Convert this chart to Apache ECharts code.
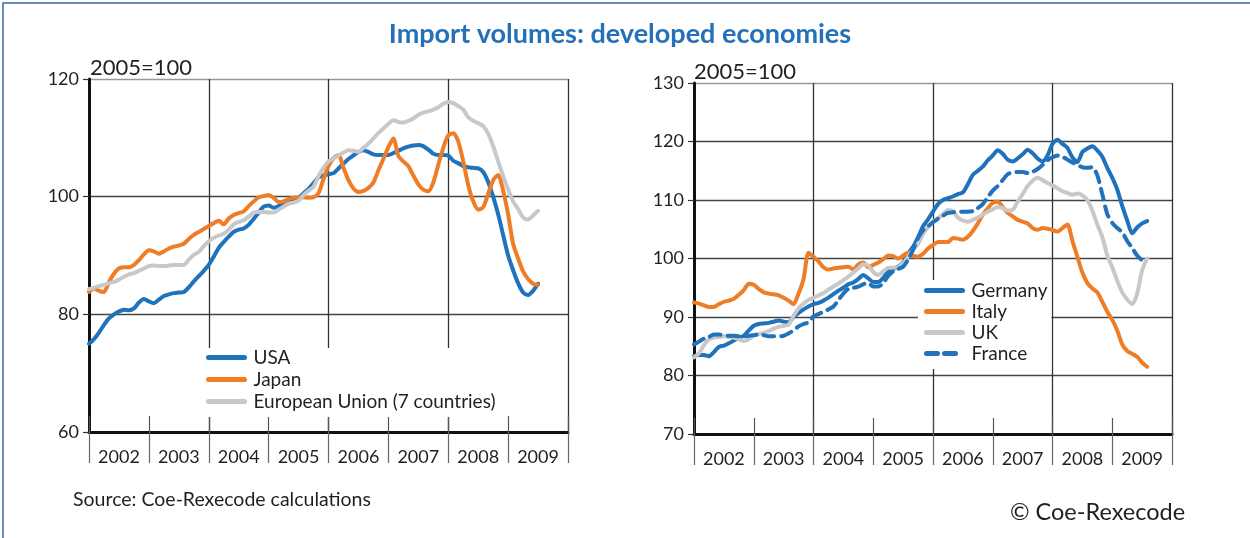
<!DOCTYPE html>
<html>
<head>
<meta charset="utf-8">
<script src="https://cdn.jsdelivr.net/npm/echarts@6/dist/echarts.min.js"></script>
<style>
  html, body { margin: 0; padding: 0; background: #fff; }
  #chart { width: 1250px; height: 538px; }
</style>
</head>
<body>
<div id="chart"></div>
<script>
// monthly index values, 2002-01 onwards (2005=100)
const years = ["2002", "2003", "2004", "2005", "2006", "2007", "2008", "2009"];

const usa = [75.0, 75.8, 76.9, 78.2, 79.3, 80.0, 80.5, 80.8, 80.7, 81.0, 82.0, 82.6,
  82.2, 81.9, 82.5, 83.1, 83.4, 83.6, 83.7, 83.8, 84.6, 85.6, 86.5, 87.4,
  88.4, 89.8, 91.3, 92.3, 93.2, 94.0, 94.4, 94.6, 95.2, 96.2, 97.3, 98.3,
  98.5, 98.1, 98.4, 99.0, 99.4, 99.6, 99.8, 100.6, 101.3, 102.3, 103.3, 103.6,
  103.8, 104.0, 104.8, 105.6, 106.4, 107.0, 107.6, 107.9, 107.6, 107.2, 107.1, 107.1,
  107.1, 107.4, 107.8, 108.2, 108.5, 108.7, 108.8, 108.6, 108.0, 107.3, 107.1, 107.1,
  107.0, 106.1, 105.7, 105.2, 105.0, 104.9, 104.8, 104.2, 102.5, 100.0, 97.0, 93.5,
  90.0, 87.5, 85.3, 83.7, 83.3, 84.0, 85.2];

const japan = [83.8, 84.4, 84.0, 83.8, 85.5, 86.9, 87.8, 88.0, 88.0, 88.4, 89.2, 90.2,
  90.9, 90.7, 90.3, 90.7, 91.2, 91.5, 91.7, 92.0, 92.8, 93.5, 94.0, 94.5,
  95.0, 95.5, 95.9, 95.3, 96.3, 96.9, 97.2, 97.5, 98.4, 99.2, 99.9, 100.1,
  100.3, 99.8, 99.1, 99.2, 99.6, 99.8, 99.9, 99.9, 99.8, 99.9, 100.6, 103.0,
  105.2, 106.5, 107.1, 104.9, 102.8, 101.4, 100.8, 101.0, 101.5, 102.4, 104.5, 106.4,
  108.4, 109.9, 106.9, 106.0, 105.2, 103.6, 102.1, 101.2, 100.9, 102.4, 105.4, 108.3,
  110.4, 110.8, 109.4, 106.0, 102.0, 99.2, 97.8, 98.2, 100.5, 102.8, 103.7, 101.0,
  97.0, 92.0, 89.5, 87.3, 86.0, 85.2, 85.0];

const eu7 = [84.3, 84.5, 84.8, 85.0, 85.3, 85.5, 85.9, 86.4, 86.8, 87.0, 87.4, 87.8,
  88.2, 88.3, 88.2, 88.2, 88.3, 88.4, 88.4, 88.4, 89.3, 90.1, 90.6, 91.6,
  92.4, 93.0, 93.4, 93.7, 94.4, 95.3, 95.7, 96.0, 96.6, 97.3, 97.4, 97.4,
  97.3, 97.3, 97.8, 98.3, 98.8, 99.0, 99.3, 100.3, 101.0, 101.7, 103.5, 104.9,
  106.0, 106.5, 107.0, 107.5, 107.9, 107.8, 107.6, 108.3, 109.0, 109.9, 110.8, 111.6,
  112.4, 113.0, 112.7, 112.6, 112.9, 113.3, 113.9, 114.3, 114.5, 114.8, 115.2, 115.8,
  116.1, 115.9, 115.4, 114.8, 113.5, 112.9, 112.5, 112.0, 110.7, 108.6, 106.0, 103.5,
  101.2, 99.2, 97.9, 96.5, 96.1, 96.8, 97.6];

const germany = [83.3, 83.5, 83.5, 83.3, 84.0, 84.9, 85.1, 85.5, 86.0, 86.4, 86.8, 87.7,
  88.5, 88.8, 88.9, 89.0, 89.2, 89.4, 89.2, 89.1, 90.0, 90.7, 91.3, 91.8,
  92.2, 92.4, 92.8, 93.3, 93.9, 94.5, 95.0, 95.6, 95.9, 96.5, 97.2, 96.6,
  96.0, 96.0, 96.7, 97.8, 98.2, 98.6, 99.3, 100.8, 102.0, 103.6, 105.5, 106.7,
  108.0, 109.3, 110.0, 110.3, 110.6, 111.0, 111.3, 112.7, 114.3, 115.0, 115.7, 116.8,
  117.6, 118.5, 117.9, 116.9, 116.6, 117.1, 117.8, 118.6, 118.0, 117.1, 116.6, 117.6,
  119.6, 120.3, 119.6, 118.9, 117.3, 116.5, 118.2, 118.8, 119.2, 118.5, 117.4, 115.5,
  113.8, 111.8, 109.0, 106.5, 104.3, 105.3, 106.0, 106.4];

const italy = [92.5, 92.3, 92.0, 91.7, 91.7, 92.2, 92.6, 92.8, 93.1, 93.8, 94.6, 95.7,
  95.5, 94.8, 94.2, 94.0, 93.9, 93.7, 93.3, 92.8, 92.2, 94.0, 96.5, 101.0,
  100.3, 99.5, 98.5, 98.1, 98.3, 98.4, 98.5, 98.6, 98.1, 99.0, 99.3, 98.5,
  98.9, 99.3, 99.9, 100.5, 100.4, 100.0, 100.5, 101.0, 100.5, 100.3, 100.8, 101.7,
  102.3, 102.8, 102.8, 102.8, 103.5, 103.4, 103.2, 103.7, 104.7, 106.0, 107.5, 108.6,
  109.5, 109.7, 108.8, 107.8, 107.2, 106.6, 106.3, 106.0, 105.2, 104.9, 105.2, 105.1,
  104.9, 104.6, 105.2, 105.8, 103.0, 100.3, 97.6, 95.8, 94.9, 94.2, 92.6, 90.9,
  89.5, 87.7, 85.3, 84.2, 83.7, 83.2, 82.2, 81.5];

const uk = [83.1, 83.8, 85.2, 86.2, 86.5, 86.6, 86.7, 86.6, 86.5, 86.2, 85.9, 86.2,
  86.8, 87.1, 87.3, 87.6, 88.0, 88.3, 88.5, 88.7, 90.2, 91.5, 92.3, 92.9,
  93.3, 93.7, 94.1, 94.7, 95.2, 95.7, 96.3, 96.9, 97.6, 98.3, 99.0, 98.8,
  97.7, 97.2, 97.8, 98.4, 98.4, 98.5, 99.2, 100.3, 101.5, 102.5, 104.2, 105.4,
  106.3, 106.9, 107.6, 108.3, 108.1, 107.0, 106.5, 106.3, 106.6, 107.0, 107.5, 108.0,
  108.4, 108.8, 108.6, 108.2, 108.3, 109.7, 111.0, 112.4, 113.3, 113.8, 113.4, 112.9,
  112.5, 112.0, 111.5, 111.2, 110.9, 111.1, 110.8, 110.0, 108.2, 105.8, 103.7, 100.5,
  98.5, 96.2, 94.2, 93.0, 92.2, 94.0, 98.0, 100.0];

const france = [85.3, 85.8, 86.3, 86.6, 87.0, 87.0, 86.9, 86.8, 86.8, 86.7, 86.7, 86.8,
  86.9, 87.0, 86.9, 86.7, 86.7, 86.7, 86.8, 87.2, 87.7, 88.4, 88.8, 89.1,
  90.1, 90.5, 90.9, 91.3, 91.8, 92.9, 94.0, 94.8, 95.0, 95.2, 95.6, 95.8,
  95.2, 95.2, 95.8, 97.0, 97.8, 98.2, 98.6, 99.8, 101.5, 103.5, 104.8, 105.5,
  106.2, 106.8, 107.3, 107.8, 107.9, 108.0, 108.0, 108.0, 108.1, 108.6, 109.3, 110.5,
  111.6, 112.4, 113.4, 114.4, 114.7, 114.8, 114.8, 114.6, 114.8, 115.3, 116.0, 116.8,
  117.3, 117.6, 117.4, 116.9, 116.4, 116.0, 115.6, 115.5, 115.6, 114.2, 111.0, 107.6,
  106.1, 105.2, 104.5, 103.0, 101.8, 100.5, 99.7, 99.3];

const BLUE = "#1f72bb";
const ORANGE = "#ef7d25";
const GREY = "#c8c8c8";
const INK = "#231f20";
const FONT = "Lato";

const chart = echarts.init(document.getElementById("chart"), null, { renderer: "canvas" });

const toPoints = (arr) => arr.map((v, i) => [i, v]);

// three x axes per panel: grid lines every 2 years, inner year ticks, year labels
const xAxesFor = (gridIndex) => [
  {
    gridIndex, type: "value", min: 0, max: 96, interval: 24, position: "bottom",
    axisLine: { show: false }, axisTick: { show: false }, axisLabel: { show: false },
    splitLine: { show: true, lineStyle: { color: "#333", width: 1.3 } },
  },
  {
    gridIndex, type: "value", min: 0, max: 96, interval: 12, position: "bottom",
    axisLine: { show: true, lineStyle: { color: "#111", width: 3 } },
    axisTick: { show: true, inside: true, length: 16, lineStyle: { color: "#555", width: 1.2 } },
    axisLabel: { show: false }, splitLine: { show: false },
  },
  {
    gridIndex, type: "category", data: years, boundaryGap: true, position: "bottom",
    axisLine: { show: false },
    axisTick: { show: true, length: 31, lineStyle: { color: "#666", width: 1.2 } },
    axisLabel: { color: INK, fontFamily: FONT, fontSize: 18, margin: 16 },
    splitLine: { show: false },
  },
];

const yAxisFor = (gridIndex, min, max, interval, gridColors) => ({
  gridIndex, type: "value", min, max, interval,
  axisLine: { show: true, lineStyle: { color: "#111", width: 3 } },
  axisTick: { show: true, length: 6, lineStyle: { color: "#333", width: 1.2 } },
  axisLabel: { color: INK, fontFamily: FONT, fontSize: 18, margin: 10 },
  splitLine: { show: true, lineStyle: { color: gridColors, width: 1.3 } },
});

const line = (name, data, color, xAxisIndex, yAxisIndex, dashed) => ({
  name, type: "line", data: toPoints(data), xAxisIndex, yAxisIndex,
  symbol: "none", smooth: 0.25, animation: false,
  lineStyle: { color, width: 4, type: dashed ? [11, 7] : "solid", cap: "round" },
  itemStyle: { color },
});

const legendBase = {
  orient: "vertical", itemWidth: 36, itemHeight: 12, backgroundColor: "#fff",
  itemStyle: { opacity: 0, borderWidth: 0 },
  lineStyle: { width: 5, cap: "round" },
  textStyle: { color: INK, fontFamily: FONT, fontSize: 19, padding: [0, 0, 0, 4] },
};

chart.setOption({
  backgroundColor: "#fff",
  textStyle: { fontFamily: FONT },
  grid: [
    { left: 89, top: 79, width: 479, height: 353 },
    { left: 694, top: 83, width: 478, height: 351 },
  ],
  xAxis: [...xAxesFor(0), ...xAxesFor(1)],
  yAxis: [
    yAxisFor(0, 60, 120, 20, ["#444", "#444", "#444", "#999"]),
    yAxisFor(1, 70, 130, 10, ["#444", "#444", "#444", "#444", "#444", "#444", "#999"]),
  ],
  legend: [
    {
      ...legendBase,
      data: ["USA", "Japan", "European Union (7 countries)"],
      left: 200, top: 348, itemGap: 3, padding: [0, 8, 6, 6],
    },
    {
      ...legendBase,
      data: ["Germany", "Italy", "UK", "France"],
      left: 918, top: 280, itemGap: 2, padding: [1, 4, 6, 6],
    },
  ],
  series: [
    line("USA", usa, BLUE, 0, 0),
    line("Japan", japan, ORANGE, 0, 0),
    line("European Union (7 countries)", eu7, GREY, 0, 0),
    line("Germany", germany, BLUE, 3, 1),
    line("Italy", italy, ORANGE, 3, 1),
    line("UK", uk, GREY, 3, 1),
    line("France", france, BLUE, 3, 1, true),
  ],
  graphic: [
    { type: "rect", silent: true, shape: { x: 3, y: 3, width: 1400, height: 800 },
      style: { fill: "none", stroke: "#3566b0", lineWidth: 1.5 } },
    { type: "text", x: 620, y: 21, style: { text: "Import volumes: developed economies",
      fill: "#2471b9", font: "bold 27px " + FONT, align: "center" } },
    { type: "text", x: 90, y: 57, style: { text: "2005=100", fill: INK, font: "22px " + FONT } },
    { type: "text", x: 694, y: 61, style: { text: "2005=100", fill: INK, font: "22px " + FONT } },
    { type: "text", x: 73, y: 490, style: { text: "Source: Coe-Rexecode calculations", fill: INK, font: "19.5px " + FONT } },
    { type: "text", x: 1010, y: 500, style: { text: "\u00a9 Coe-Rexecode", fill: INK, font: "23.5px " + FONT } },
  ],
});
</script>
</body>
</html>
